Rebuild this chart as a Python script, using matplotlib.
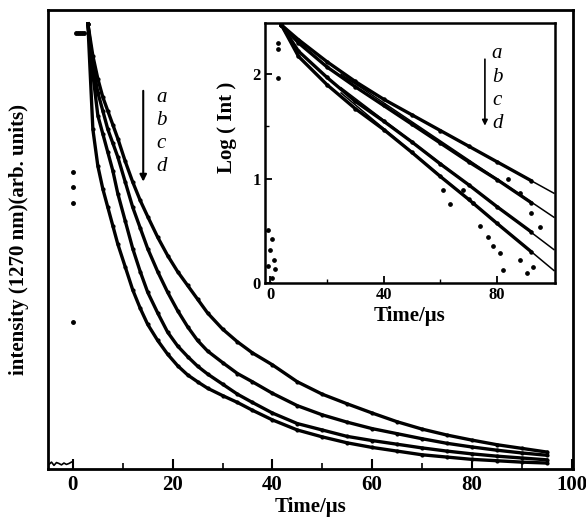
import matplotlib
matplotlib.use('Agg')
import matplotlib.pyplot as plt

plt.rcParams['font.family'] = ['Liberation Serif', 'DejaVu Serif']
plt.rcParams['font.weight'] = 'bold'

# ---- main panel: emission decay at 1270 nm (normalised intensity) ----
t_main = [3, 4, 5, 6, 7, 8, 9, 10.5, 12, 13.5, 15, 17, 19, 21, 23, 25, 27, 30, 33, 36,
          40, 45, 50, 55, 60, 65, 70, 75, 80, 85, 90, 95]
int_a = [0.97, 0.90, 0.85, 0.81, 0.78, 0.75, 0.72, 0.67, 0.625, 0.585, 0.55, 0.505,
         0.465, 0.43, 0.40, 0.37, 0.34, 0.305, 0.277, 0.253, 0.227, 0.19, 0.163, 0.142,
         0.122, 0.103, 0.087, 0.074, 0.063, 0.053, 0.045, 0.037]
int_b = [0.97, 0.88, 0.82, 0.78, 0.74, 0.71, 0.68, 0.625, 0.57, 0.525, 0.48, 0.43,
         0.385, 0.345, 0.31, 0.28, 0.257, 0.232, 0.208, 0.19, 0.165, 0.138, 0.118, 0.102,
         0.088, 0.077, 0.066, 0.056, 0.048, 0.041, 0.035, 0.030]
int_c = [0.97, 0.86, 0.77, 0.73, 0.69, 0.65, 0.60, 0.54, 0.48, 0.43, 0.385, 0.34,
         0.298, 0.268, 0.245, 0.224, 0.207, 0.185, 0.163, 0.145, 0.122, 0.099, 0.085,
         0.071, 0.062, 0.054, 0.046, 0.039, 0.033, 0.028, 0.024, 0.020]
int_d = [0.97, 0.74, 0.66, 0.61, 0.57, 0.53, 0.49, 0.44, 0.39, 0.35, 0.315, 0.28,
         0.25, 0.225, 0.205, 0.19, 0.176, 0.16, 0.145, 0.128, 0.107, 0.085, 0.07, 0.057,
         0.047, 0.039, 0.031, 0.026, 0.021, 0.018, 0.015, 0.013]

# points before / at the laser pulse
t_pre = [-4.8, -4.3, -3.8, -3.3, -2.8, -2.3, -1.8, -1.3, -0.8, -0.3]
int_pre = [0.010, 0.015, 0.008, 0.014, 0.012, 0.009, 0.013, 0.010, 0.012, 0.015]
t_rise = [0, 0, 0, 0, 0.6, 1.0, 1.4, 1.8, 2.2]
int_rise = [0.647, 0.614, 0.58, 0.32, 0.95, 0.95, 0.95, 0.95, 0.95]

# ---- inset: log(Int) vs time ----
t_log = [4, 10, 20, 30, 40, 50, 60, 70, 80, 92]
log_a = [2.47, 2.33, 2.12, 1.93, 1.76, 1.61, 1.46, 1.31, 1.16, 0.98]
log_b = [2.47, 2.30, 2.07, 1.88, 1.70, 1.52, 1.34, 1.16, 0.99, 0.77]
log_c = [2.47, 2.22, 1.97, 1.74, 1.55, 1.35, 1.14, 0.94, 0.73, 0.49]
log_d = [2.47, 2.17, 1.90, 1.67, 1.47, 1.25, 1.02, 0.80, 0.57, 0.30]

# linear fits (start / end values)
fit_t = [25, 100]
fit_a = [1.985, 0.86]
fit_b = [2.00, 0.63]
fit_c = [1.87, 0.32]
fit_d = [1.82, 0.12]

# scattered noisy points in the tail and the pre-pulse points
t_noise = [61, 63.4, 74, 76.8, 78.6, 81, 82, 88, 90.4, 92.6, 95, 92, 88, 83.8, 68, 71.5,
           -0.6, 0.6, 0, 1.2, -0.6, 1.7, 0.6, 2.9, 2.9, 2.9]
log_noise = [0.89, 0.76, 0.55, 0.44, 0.35, 0.29, 0.12, 0.22, 0.10, 0.15, 0.54, 0.67, 0.86,
             1.00, 0.89, 0.77, 0.51, 0.42, 0.32, 0.22, 0.16, 0.13, 0.05, 2.24, 2.30, 1.96]

labels = ['a', 'b', 'c', 'd']

fig = plt.figure(figsize=(5.86, 5.22), dpi=100)
ax = fig.add_axes([48 / 586, 1 - 469 / 522, 525 / 586, 459 / 522])

for vals in (int_a, int_b, int_c, int_d):
    ax.plot(t_main, vals, color='black', lw=2.4, marker='o', ms=2.0,
            solid_joinstyle='round')
ax.plot(t_pre, int_pre, color='black', lw=1.2)
ax.plot(t_rise, int_rise, 'o', color='black', ms=2.5)

ax.set_xlim(-5, 100.3)
ax.set_ylim(0, 1)
ax.set_xticks([0, 20, 40, 60, 80, 100])
ax.set_xticks([10, 30, 50, 70, 90], minor=True)
ax.tick_params(axis='x', which='major', direction='in', length=7, width=1.5,
               labelsize=15, pad=4)
ax.tick_params(axis='x', which='minor', direction='in', length=4, width=1.2)
ax.tick_params(axis='y', left=False, labelleft=False)
for s in ax.spines.values():
    s.set_linewidth(2)
ax.set_xlabel('Time/\u03bcs', fontsize=15, fontweight='bold', labelpad=2)
ax.set_ylabel('intensity (1270 nm)(arb. units)', fontsize=15, fontweight='bold')
ax.yaxis.set_label_coords(-0.036, 0.5)

ax.annotate('', xy=(14.1, 0.62), xytext=(14.1, 0.83),
            arrowprops=dict(arrowstyle='-|>', color='black', lw=1.5,
                            mutation_scale=10))
for lab, yv in zip(labels, [0.81, 0.76, 0.71, 0.66]):
    ax.text(17.7, yv, lab, fontsize=15, fontstyle='italic', fontweight='normal',
            ha='center', va='center')

# inset
ins = fig.add_axes([265 / 586, 1 - 283 / 522, 290 / 586, 260 / 522])
ins.set_facecolor('white')
for vals in (log_a, log_b, log_c, log_d):
    ins.plot(t_log, vals, color='black', lw=2.4, marker='o', ms=2.2)
for vals in (fit_a, fit_b, fit_c, fit_d):
    ins.plot(fit_t, vals, color='black', lw=1.1)
ins.plot(t_noise, log_noise, 'o', color='black', ms=2.4)

ins.set_xlim(-1.8, 100.4)
ins.set_ylim(0, 2.49)
ins.set_xticks([0, 40, 80])
ins.set_xticks([20, 60], minor=True)
ins.set_yticks([0, 1, 2])
ins.set_yticks([0.5, 1.5], minor=True)
ins.tick_params(which='major', direction='in', length=5, width=1.3, labelsize=12, pad=3)
ins.tick_params(which='minor', direction='in', length=3, width=1.0)
for s in ins.spines.values():
    s.set_linewidth(1.8)
ins.set_xlabel('Time/\u03bcs', fontsize=15, fontweight='bold', labelpad=2)
ins.set_ylabel('Log ( Int )', fontsize=15, fontweight='bold')
ins.yaxis.set_label_coords(-0.097, 0.60)

ins.annotate('', xy=(75.7, 1.48), xytext=(75.7, 2.17),
             arrowprops=dict(arrowstyle='-|>', color='black', lw=1.2,
                             mutation_scale=8))
for lab, yv in zip(labels, [2.2, 1.97, 1.75, 1.53]):
    ins.text(80, yv, lab, fontsize=15, fontstyle='italic', fontweight='normal',
             ha='center', va='center')

fig.savefig('out.png', dpi=100)
